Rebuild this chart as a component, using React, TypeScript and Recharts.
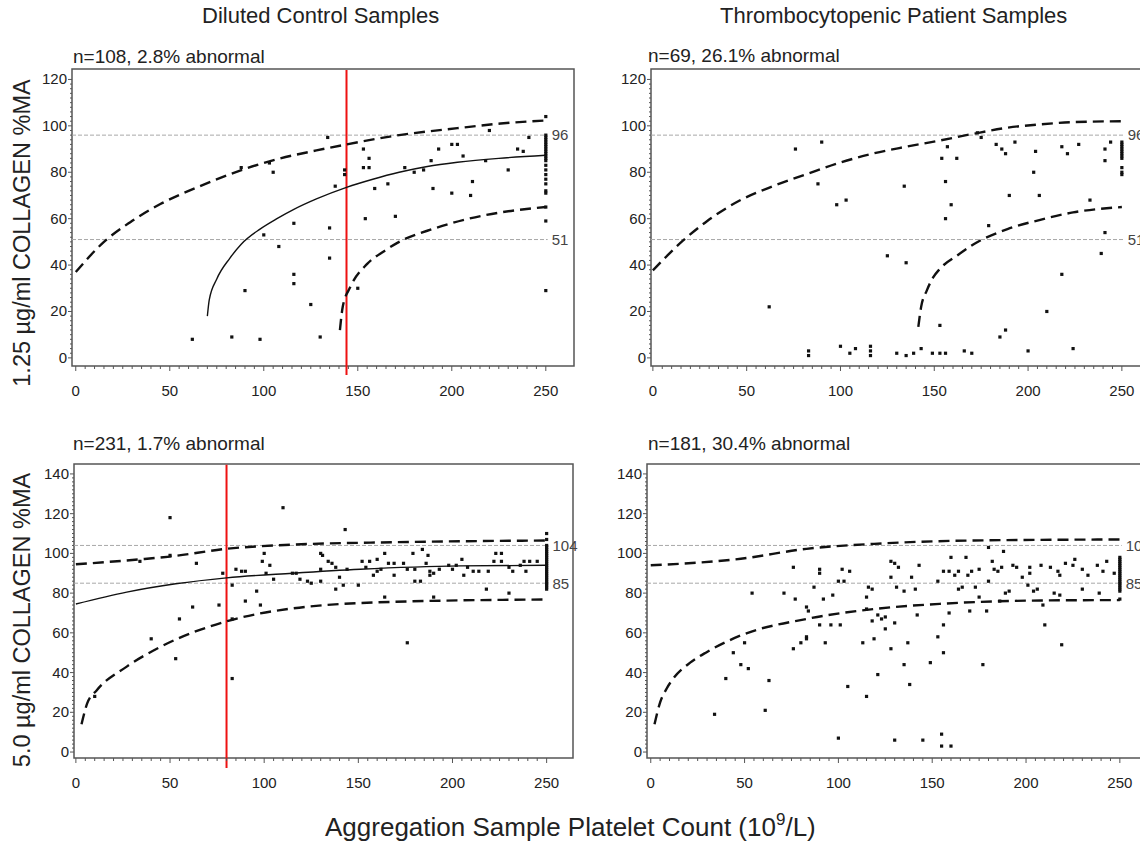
import React from 'react';
import { ReferenceArea, ReferenceLine, Scatter, ScatterChart, XAxis, YAxis } from 'recharts';

const FONT = '"Liberation Sans", Arial, Helvetica, sans-serif';

type Pt = [number, number];

const COLUMN_TITLES = ['Diluted Control Samples', 'Thrombocytopenic Patient Samples'];
const PANEL_NOTES = [
  'n=108, 2.8% abnormal',
  'n=69, 26.1% abnormal',
  'n=231, 1.7% abnormal',
  'n=181, 30.4% abnormal',
];
const ROW_LABELS = ['1.25 µg/ml COLLAGEN %MA', '5.0 µg/ml COLLAGEN %MA'];

const X_TICKS = [0, 50, 100, 150, 200, 250];
const Y_TICKS_125 = [0, 20, 40, 60, 80, 100, 120];
const Y_TICKS_50 = [0, 20, 40, 60, 80, 100, 120, 140];

// reference range limits (upper, lower)
const RANGE_125 = [96, 51];
const RANGE_50 = [104, 85];

// platelet count cut-offs (red lines)
const CUTOFF_125 = 144;
const CUTOFF_50 = 80;

// fitted curves, 1.25 µg/ml
const upper125Control: Pt[] = [[0, 37], [15, 50], [29, 58.5], [45, 66.3], [66, 74], [87, 80.6], [107, 85.6], [128, 89.4], [144, 92], [172, 96], [203, 99], [226, 101], [250, 102.3]];
const mid125Control: Pt[] = [[70, 18], [71, 25], [75, 34], [82, 43], [88, 49], [98, 55.5], [107, 60], [116, 64], [128, 68.5], [144, 73.5], [158, 77], [172, 80], [187, 82.5], [203, 84.3], [225, 86], [250, 87.3]];
const lower125Control: Pt[] = [[140.5, 12], [142, 22], [146, 30.5], [155, 40.5], [164, 46], [172, 50], [190, 55.6], [208, 59.8], [226, 62.7], [250, 65]];
const upper125Patient: Pt[] = [[0, 37.7], [16, 50.5], [29, 59], [46, 67.7], [64, 74], [82, 79.2], [100, 84.2], [117, 88], [135, 91], [153, 93.7], [171, 96.6], [189, 99.2], [206, 100.6], [224, 101.6], [250, 102]];
const lower125Patient: Pt[] = [[141.5, 13.4], [143, 22], [146, 29], [149.5, 34.8], [153, 38.4], [162, 44], [171, 49], [189, 55.5], [206, 59.4], [224, 62.7], [250, 65]];

// fitted curves, 5.0 µg/ml
const upper50Control: Pt[] = [[0, 94.5], [34, 97], [50, 98.4], [80, 102.3], [115, 104.4], [168, 105.6], [250, 106.5]];
const mid50Control: Pt[] = [[0, 74.5], [27, 80.5], [53, 84.7], [80, 87.7], [115, 90], [151, 92], [204, 93.7], [250, 94]];
const lower50Control: Pt[] = [[3, 14], [6, 24.5], [11, 31], [27, 43], [45, 53], [80, 65.8], [115, 72.3], [168, 75.6], [250, 76.8]];
const upper50Patient: Pt[] = [[0, 94], [48, 97.3], [83, 102.3], [119, 104.8], [172, 106.5], [250, 107]];
const lower50Patient: Pt[] = [[2, 14], [5, 25], [8.5, 32], [12, 37], [21, 45], [30, 50.4], [48, 58.7], [83, 67], [119, 72], [154, 74.6], [208, 76.3], [250, 76.5]];

// samples
const control125: Pt[] = [
  [62, 8], [83, 9], [98, 8], [130, 9], [90, 29], [88, 82], [103, 84], [105, 80], [116, 58], [100, 53],
  [108, 48], [116, 36], [116, 32], [125, 23], [134, 95], [135, 56], [135, 43], [143, 81], [143, 79], [138, 74],
  [150, 30], [153, 90], [153, 82], [156, 86], [156, 82], [154, 60], [159, 73], [166, 75], [170, 61], [175, 82],
  [180, 80], [185, 81], [189, 85], [190, 73], [193, 90], [200, 92], [203, 92], [206, 87], [200, 71], [211, 76],
  [210, 70], [218, 85], [220, 98], [230, 81], [235, 90], [238, 89], [241, 95], [250, 104], [250, 96], [250, 95],
  [250, 94], [250, 93], [250, 92], [250, 91], [250, 90], [250, 89], [250, 88], [250, 87], [250, 86], [250, 85],
  [250, 83], [250, 81], [250, 79], [250, 77], [250, 75], [250, 72], [250, 71], [250, 65], [250, 59], [250, 29],
];
const patient125: Pt[] = [
  [62, 22], [76, 90], [90, 93], [88, 75], [98, 66], [103, 68], [83, 3], [83, 1], [100, 5], [105, 2],
  [108, 4], [116, 5], [116, 3], [116, 1], [125, 44], [135, 41], [134, 74], [130, 2], [135, 1], [139, 2],
  [143, 4], [149, 2], [153, 2], [156, 2], [153, 14], [154, 86], [157, 91], [156, 76], [159, 66], [156, 60],
  [162, 86], [166, 3], [170, 2], [173, 97], [175, 95], [179, 57], [183, 92], [186, 90], [188, 88], [185, 9],
  [188, 12], [190, 70], [193, 93], [200, 3], [203, 80], [204, 89], [206, 70], [210, 20], [218, 91], [221, 88],
  [218, 36], [224, 4], [227, 92], [233, 68], [239, 45], [241, 54], [241, 90], [241, 85], [244, 93], [250, 93],
  [250, 92], [250, 91], [250, 90], [250, 89], [250, 88], [250, 87], [250, 86], [250, 82], [250, 80], [250, 79],
];
const control50: Pt[] = [
  [50, 118], [110, 123], [143, 112], [34, 96], [50, 99], [64, 95], [78, 90], [76, 74], [62, 73], [55, 67],
  [40, 57], [53, 47], [10, 28], [83, 84], [83, 67], [83, 37], [85, 92], [88, 91], [90, 91], [90, 76],
  [96, 81], [98, 74], [100, 100], [99, 96], [103, 94], [101, 90], [105, 87], [115, 90], [117, 90], [119, 87],
  [123, 86], [125, 85], [130, 100], [131, 99], [130, 92], [130, 86], [134, 96], [136, 95], [138, 93], [138, 82],
  [140, 88], [142, 84], [144, 92], [150, 84], [152, 96], [154, 93], [156, 96], [158, 89], [160, 97], [160, 91],
  [162, 92], [164, 100], [164, 78], [166, 95], [169, 95], [169, 89], [174, 95], [176, 55], [176, 92], [179, 100],
  [180, 92], [180, 86], [183, 86], [184, 102], [186, 95], [187, 99], [188, 91], [188, 89], [190, 78], [190, 90],
  [193, 92], [198, 94], [200, 92], [202, 94], [205, 97], [206, 89], [208, 93], [211, 91], [214, 91], [218, 82],
  [219, 91], [222, 96], [223, 100], [226, 100], [226, 96], [230, 93], [230, 80], [232, 91], [236, 94], [238, 96],
  [239, 91], [241, 96], [245, 96], [250, 110], [250, 107], [250, 104], [250, 103], [250, 102], [250, 101], [250, 100],
  [250, 99], [250, 98], [250, 97], [250, 96], [250, 95], [250, 94], [250, 93], [250, 92], [250, 91], [250, 90],
  [250, 89], [250, 88], [250, 87], [250, 86], [250, 85], [250, 84], [250, 83], [250, 82],
];
const patient50: Pt[] = [
  [34, 19], [40, 37], [44, 50], [48, 44], [50, 55], [52, 42], [54, 80], [61, 21], [63, 36], [71, 80],
  [76, 93], [77, 77], [76, 52], [80, 55], [83, 57], [83, 58], [83, 73], [84, 71], [87, 83], [90, 92],
  [90, 90], [90, 64], [93, 55], [92, 77], [96, 64], [97, 79], [100, 7], [100, 86], [103, 86], [101, 64],
  [102, 92], [105, 33], [106, 91], [113, 55], [115, 78], [116, 83], [118, 82], [115, 28], [115, 72], [118, 66],
  [119, 57], [121, 39], [121, 69], [123, 67], [125, 68], [125, 62], [128, 52], [128, 96], [130, 95], [132, 93],
  [128, 88], [130, 65], [130, 6], [131, 83], [135, 44], [135, 81], [137, 55], [138, 34], [139, 88], [141, 82],
  [143, 94], [142, 69], [145, 6], [149, 45], [153, 58], [153, 86], [155, 9], [155, 3], [160, 3], [156, 64],
  [156, 50], [156, 91], [159, 91], [160, 98], [162, 89], [164, 91], [164, 82], [166, 83], [168, 98], [169, 89],
  [171, 91], [159, 70], [170, 71], [173, 83], [175, 92], [175, 78], [177, 44], [179, 71], [180, 103], [180, 86],
  [182, 96], [183, 92], [185, 91], [187, 93], [188, 101], [189, 80], [191, 81], [186, 76], [193, 94], [195, 93],
  [198, 88], [201, 84], [202, 90], [204, 81], [206, 82], [202, 93], [208, 94], [213, 93], [209, 74], [210, 64],
  [215, 80], [217, 91], [218, 89], [221, 95], [225, 94], [226, 97], [230, 92], [233, 89], [238, 94], [241, 91],
  [243, 96], [247, 90], [219, 54], [218, 79], [230, 82], [239, 80], [250, 98], [250, 97], [250, 96], [250, 95],
  [250, 94], [250, 93], [250, 92], [250, 91], [250, 90], [250, 89], [250, 88], [250, 87], [250, 86], [250, 85],
  [250, 84], [250, 83], [250, 82], [250, 81], [250, 77],
];

const toXY = (pts: Pt[]) => pts.map(([x, y]) => ({ x, y }));

const xAllTicks = Array.from({ length: 51 }, (_, i) => i * 5);
const yAllTicks = (max: number) => Array.from({ length: max / 2 + 1 }, (_, i) => i * 2);

const Dot = (p: any) => (
  <rect x={p.cx - 1.6} y={p.cy - 1.6} width={3.2} height={3.2} fill="#111" />
);
const NoDot = () => <g />;

const renderXTick = (p: any) => {
  const v = p.payload.value;
  const major = X_TICKS.includes(v);
  return (
    <g>
      <line x1={p.x} x2={p.x} y1={p.y} y2={p.y + (major ? 5 : 3)} stroke="#555" />
      {major && (
        <text x={p.x} y={p.y + 30} textAnchor="middle" fontSize={15} fill="#222" fontFamily={FONT}>
          {v}
        </text>
      )}
    </g>
  );
};

const makeYTick = (majors: number[]) => (p: any) => {
  const v = p.payload.value;
  const major = majors.includes(v);
  return (
    <g>
      <line x1={p.x} x2={p.x - (major ? 4 : 2)} y1={p.y} y2={p.y} stroke="#555" />
      {major && (
        <text x={p.x - 5} y={p.y + 5} textAnchor="end" fontSize={15} fill="#222" fontFamily={FONT}>
          {v}
        </text>
      )}
    </g>
  );
};

interface PanelProps {
  left: number;
  top: number;
  width: number;
  height: number;
  xDomain: [number, number];
  yDomain: [number, number];
  yTicks: number[];
  points: Pt[];
  upper: Pt[];
  lower: Pt[];
  mid?: Pt[];
  range: number[];
  cutoff?: number;
  cutoffLow?: number;
}

function Panel(props: PanelProps) {
  const { left, top, width, height, xDomain, yDomain, yTicks, points, upper, lower, mid, range, cutoff, cutoffLow } = props;
  const yMax = yTicks[yTicks.length - 1];
  const dashed = { stroke: '#111', strokeWidth: 2.4, strokeDasharray: '11 6' };
  return (
    <div style={{ position: 'absolute', left, top }}>
      <ScatterChart width={width} height={height} margin={{ top: 5, right: 5, bottom: 0, left: 0 }}>
        <XAxis
          type="number"
          dataKey="x"
          domain={xDomain}
          allowDataOverflow
          ticks={xAllTicks}
          interval={0}
          tick={renderXTick}
          tickLine={false}
          axisLine={false}
          tickSize={0}
          tickMargin={0}
          height={40}
        />
        <YAxis
          type="number"
          dataKey="y"
          domain={yDomain}
          allowDataOverflow
          ticks={yAllTicks(yMax)}
          interval={0}
          tick={makeYTick(yTicks)}
          tickLine={false}
          axisLine={false}
          tickSize={0}
          tickMargin={0}
          width={60}
        />
        {range.map((r) => (
          <ReferenceLine
            key={r}
            segment={[{ x: xDomain[0], y: r }, { x: 251, y: r }]}
            stroke="#a8a8a8"
            strokeDasharray="4 2"
            ifOverflow="visible"
            label={{ value: String(r), position: 'right', offset: 4, fontSize: 15, fill: '#444', fontFamily: FONT }}
          />
        ))}
        <Scatter data={toXY(upper)} line={dashed} lineJointType="monotoneX" shape={NoDot} isAnimationActive={false} />
        <Scatter data={toXY(lower)} line={dashed} lineJointType="monotoneX" shape={NoDot} isAnimationActive={false} />
        {mid && (
          <Scatter
            data={toXY(mid)}
            line={{ stroke: '#111', strokeWidth: 1.4 }}
            lineJointType="monotoneX"
            shape={NoDot}
            isAnimationActive={false}
          />
        )}
        <Scatter data={toXY(points)} shape={Dot} isAnimationActive={false} />
        <ReferenceArea
          x1={xDomain[0]}
          x2={xDomain[1]}
          y1={yDomain[0]}
          y2={yDomain[1]}
          fill="none"
          stroke="#555"
          strokeWidth={1.5}
          ifOverflow="visible"
        />
        {cutoff !== undefined && (
          <ReferenceLine
            segment={[{ x: cutoff, y: yDomain[1] - 0.4 }, { x: cutoff, y: cutoffLow ?? yDomain[0] }]}
            stroke="#ee1111"
            strokeWidth={2}
            ifOverflow="visible"
          />
        )}
      </ScatterChart>
    </div>
  );
}

export default function App() {
  return (
    <div
      style={{
        position: 'absolute',
        left: 0,
        top: 0,
        width: 1140,
        height: 851,
        overflow: 'hidden',
        background: '#fff',
        fontFamily: FONT,
      }}
    >
      <Panel
        left={12} top={64} width={567} height={342}
        xDomain={[-2, 265]} yDomain={[-3.5, 124.5]} yTicks={Y_TICKS_125}
        points={control125} upper={upper125Control} lower={lower125Control} mid={mid125Control}
        range={RANGE_125} cutoff={CUTOFF_125} cutoffLow={-7.4}
      />
      <Panel
        left={591} top={64} width={564} height={342}
        xDomain={[-1, 265]} yDomain={[-3.5, 124.5]} yTicks={Y_TICKS_125}
        points={patient125} upper={upper125Patient} lower={lower125Patient}
        range={RANGE_125}
      />
      <Panel
        left={14} top={459} width={564} height={339}
        xDomain={[-1, 264]} yDomain={[-3, 145]} yTicks={Y_TICKS_50}
        points={control50} upper={upper50Control} lower={lower50Control} mid={mid50Control}
        range={RANGE_50} cutoff={CUTOFF_50} cutoffLow={-8}
      />
      <Panel
        left={587} top={459} width={566} height={339}
        xDomain={[-2, 265]} yDomain={[-3, 145]} yTicks={Y_TICKS_50}
        points={patient50} upper={upper50Patient} lower={lower50Patient}
        range={RANGE_50}
      />
      <svg
        width={1140}
        height={851}
        style={{ position: 'absolute', left: 0, top: 0, pointerEvents: 'none' }}
        fontFamily={FONT}
        fill="#222"
      >
        <text x={202} y={23} fontSize={22}>{COLUMN_TITLES[0]}</text>
        <text x={720} y={23} fontSize={22}>{COLUMN_TITLES[1]}</text>
        <text x={73} y={63} fontSize={19}>{PANEL_NOTES[0]}</text>
        <text x={648} y={62} fontSize={19}>{PANEL_NOTES[1]}</text>
        <text x={73} y={450} fontSize={19}>{PANEL_NOTES[2]}</text>
        <text x={648} y={450} fontSize={19}>{PANEL_NOTES[3]}</text>
        <text
          x={22} y={233} fontSize={23.5} textAnchor="middle" dominantBaseline="central"
          transform="rotate(-90 22 233)"
        >
          {ROW_LABELS[0]}
        </text>
        <text
          x={22} y={620} fontSize={23.5} textAnchor="middle" dominantBaseline="central"
          transform="rotate(-90 22 620)"
        >
          {ROW_LABELS[1]}
        </text>
        <text x={325} y={836} fontSize={26}>
          Aggregation Sample Platelet Count (10
          <tspan fontSize={17} dy={-11}>9</tspan>
          <tspan dy={11}>/L)</tspan>
        </text>
      </svg>
    </div>
  );
}
